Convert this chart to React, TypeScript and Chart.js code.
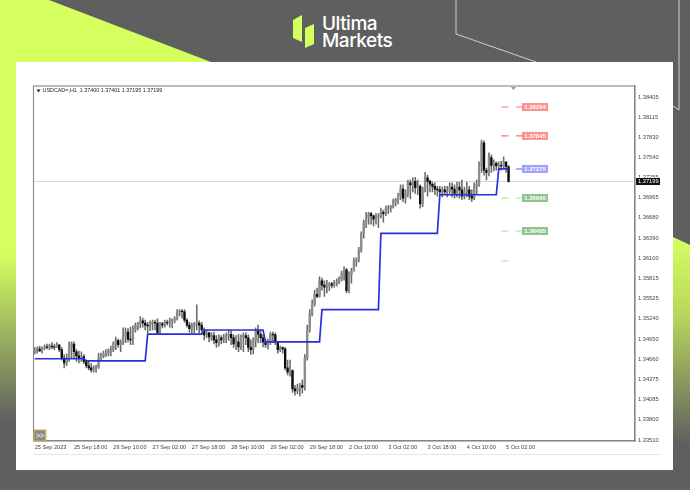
import React, { useEffect, useRef } from "react";
import { Chart, registerables } from "chart.js";

Chart.register(...registerables);

const BAR_SLOTS = 245;
const tickLabels = ["25 Sep 2023","25 Sep 18:00","26 Sep 10:00","27 Sep 02:00","27 Sep 18:00","28 Sep 10:00","29 Sep 02:00","29 Sep 18:00","2 Oct 10:00","3 Oct 02:00","3 Oct 18:00","4 Oct 10:00","5 Oct 02:00"];
const priceTicks = [1.38405,1.38115,1.3783,1.3754,1.37255,1.36965,1.3668,1.3639,1.361,1.35815,1.35525,1.3524,1.3495,1.3466,1.34375,1.34085,1.338,1.3351];

const highs = [
1.3483,1.3484,1.3485,1.3484,1.3487,1.3488,1.3488,1.3490,1.3488,1.3490,
1.3487,1.3483,1.3473,1.3474,1.3491,1.3491,1.3491,1.3480,1.3478,1.3477,
1.3473,1.3465,1.3463,1.3460,1.3457,1.3458,1.3475,1.3475,1.3478,1.3480,
1.3481,1.3485,1.3491,1.3498,1.3495,1.3494,1.3511,1.3511,1.3510,1.3512,
1.3514,1.3518,1.3519,1.3527,1.3525,1.3522,1.3519,1.3521,1.3522,1.3522,
1.3524,1.3519,1.3519,1.3522,1.3522,1.3525,1.3524,1.3527,1.3537,1.3537,
1.3537,1.3537,1.3524,1.3519,1.3518,1.3519,1.3544,1.3521,1.3519,1.3511,
1.3508,1.3505,1.3504,1.3505,1.3500,1.3501,1.3500,1.3502,1.3504,1.3508,
1.3507,1.3501,1.3500,1.3502,1.3501,1.3504,1.3504,1.3501,1.3494,1.3497,
1.3511,1.3515,1.3508,1.3501,1.3494,1.3495,1.3505,1.3505,1.3504,1.3491,
1.3485,1.3484,1.3483,1.3465,1.3465,1.3451,1.3429,1.3431,1.3432,1.3437,
1.3473,1.3515,1.3537,1.3551,1.3565,1.3568,1.3584,1.3582,1.3578,1.3579,
1.3576,1.3576,1.3579,1.3581,1.3584,1.3592,1.3598,1.3596,1.3591,1.3596,
1.3611,1.3611,1.3626,1.3648,1.3665,1.3676,1.3676,1.3676,1.3672,1.3674,
1.3674,1.3682,1.3679,1.3685,1.3686,1.3686,1.3695,1.3696,1.3703,1.3715,
1.3715,1.3708,1.3722,1.3722,1.3725,1.3726,1.3722,1.3715,1.3712,1.3733,
1.3729,1.3722,1.3719,1.3718,1.3713,1.3713,1.3712,1.3713,1.3713,1.3718,
1.3718,1.3715,1.3719,1.3719,1.3722,1.3712,1.3719,1.3713,1.3708,1.3718,
1.3722,1.3748,1.3779,1.3778,1.3739,1.3761,1.3758,1.3751,1.3748,1.3748,
1.3749,1.3755,1.3746,1.3743];

const lows = [
1.3474,1.3475,1.3477,1.3475,1.3480,1.3481,1.3480,1.3481,1.3480,1.3483,
1.3477,1.3465,1.3454,1.3457,1.3463,1.3468,1.3468,1.3463,1.3461,1.3463,
1.3460,1.3454,1.3451,1.3448,1.3448,1.3448,1.3453,1.3465,1.3468,1.3470,
1.3471,1.3471,1.3477,1.3480,1.3483,1.3477,1.3487,1.3490,1.3491,1.3487,
1.3487,1.3505,1.3508,1.3511,1.3512,1.3508,1.3504,1.3507,1.3508,1.3508,
1.3502,1.3502,1.3511,1.3512,1.3515,1.3512,1.3511,1.3518,1.3522,1.3528,
1.3525,1.3519,1.3512,1.3505,1.3504,1.3504,1.3508,1.3504,1.3505,1.3494,
1.3497,1.3491,1.3493,1.3488,1.3483,1.3485,1.3488,1.3490,1.3490,1.3493,
1.3487,1.3483,1.3480,1.3477,1.3480,1.3477,1.3487,1.3477,1.3473,1.3474,
1.3484,1.3490,1.3490,1.3484,1.3483,1.3481,1.3487,1.3490,1.3487,1.3475,
1.3477,1.3475,1.3451,1.3444,1.3442,1.3419,1.3415,1.3417,1.3414,1.3418,
1.3422,1.3465,1.3505,1.3528,1.3542,1.3554,1.3555,1.3565,1.3556,1.3561,
1.3564,1.3568,1.3569,1.3571,1.3574,1.3578,1.3579,1.3561,1.3561,1.3575,
1.3594,1.3599,1.3605,1.3619,1.3639,1.3654,1.3659,1.3659,1.3656,1.3659,
1.3654,1.3668,1.3662,1.3671,1.3674,1.3676,1.3682,1.3685,1.3688,1.3694,
1.3691,1.3689,1.3698,1.3695,1.3705,1.3703,1.3701,1.3682,1.3684,1.3705,
1.3699,1.3705,1.3705,1.3701,1.3699,1.3701,1.3698,1.3702,1.3698,1.3701,
1.3698,1.3696,1.3698,1.3696,1.3694,1.3695,1.3698,1.3694,1.3691,1.3694,
1.3701,1.3713,1.3733,1.3729,1.3722,1.3728,1.3733,1.3735,1.3736,1.3736,
1.3736,1.3739,1.3733,1.3719];

const closes = [
1.3480,1.3481,1.3478,1.3483,1.3484,1.3483,1.3485,1.3484,1.3483,1.3487,
1.3480,1.3468,1.3461,1.3468,1.3483,1.3488,1.3477,1.3471,1.3467,1.3470,
1.3463,1.3457,1.3454,1.3451,1.3454,1.3455,1.3468,1.3471,1.3474,1.3475,
1.3478,1.3480,1.3488,1.3493,1.3487,1.3490,1.3500,1.3505,1.3495,1.3494,
1.3508,1.3514,1.3517,1.3521,1.3518,1.3515,1.3514,1.3517,1.3519,1.3518,
1.3504,1.3517,1.3515,1.3519,1.3518,1.3521,1.3522,1.3524,1.3534,1.3535,
1.3534,1.3522,1.3515,1.3510,1.3514,1.3517,1.3518,1.3515,1.3508,1.3501,
1.3504,1.3498,1.3500,1.3494,1.3490,1.3497,1.3494,1.3495,1.3500,1.3502,
1.3497,1.3488,1.3491,1.3484,1.3498,1.3500,1.3497,1.3483,1.3480,1.3493,
1.3507,1.3502,1.3497,1.3491,1.3487,1.3490,1.3502,1.3501,1.3491,1.3480,
1.3483,1.3481,1.3454,1.3448,1.3450,1.3424,1.3421,1.3425,1.3429,1.3426,
1.3468,1.3508,1.3531,1.3545,1.3559,1.3556,1.3578,1.3572,1.3569,1.3571,
1.3574,1.3572,1.3575,1.3576,1.3581,1.3589,1.3594,1.3564,1.3587,1.3592,
1.3606,1.3608,1.3622,1.3645,1.3661,1.3668,1.3674,1.3671,1.3666,1.3669,
1.3671,1.3676,1.3674,1.3681,1.3682,1.3684,1.3691,1.3694,1.3699,1.3709,
1.3696,1.3703,1.3718,1.3715,1.3720,1.3711,1.3713,1.3688,1.3708,1.3725,
1.3720,1.3716,1.3713,1.3709,1.3708,1.3705,1.3708,1.3705,1.3706,1.3712,
1.3709,1.3703,1.3712,1.3708,1.3699,1.3705,1.3708,1.3699,1.3696,1.3713,
1.3716,1.3742,1.3775,1.3736,1.3733,1.3754,1.3743,1.3746,1.3742,1.3743,
1.3742,1.3748,1.3741,1.37199];

const firstOpen = 1.3476;

// Blue pivot line: [level, number of bars at that level]
const pivotRuns: [number, number][] = [
  [1.3467, 21],[1.3464, 25],[1.3502, 23],[1.3508, 25],[1.3491, 23],
  [1.3537, 24],[1.3646, 24],[1.3701, 24],[1.3738, 5],
];

// Level marks to the right of the last bar
const levelMarks = [
  { price: 1.38262, label: "1.38264", dash: "#ff7474", box: "#ff9090", near: true, far: true },
  { price: 1.3785, label: "1.37845", dash: "#ff7474", box: "#ff9090", near: true, far: true },
  { price: 1.37378, label: "1.37375", dash: "#5a5aff", box: "#a0a0ff", near: false, far: true },
  { price: 1.36964, label: "1.36960", dash: "#8ff08f", box: "#8fc48f", near: true, far: true },
  { price: 1.36493, label: "1.36495", dash: "#8ff08f", box: "#8fc48f", near: true, far: true },
  { price: 1.36065, label: "", dash: "#8ff08f", box: "", near: true, far: false },
];

const LAST_PRICE = 1.37199;
const HEADER_TEXT = "USDCAD=,H1  1.37400 1.37401 1.37195 1.37199";

const FONT = "'Liberation Sans', sans-serif";

const labels = Array.from({ length: BAR_SLOTS }, (_, i) => (i % 16 === 0 ? tickLabels[i / 16] ?? "" : ""));
const opens = closes.map((_, i) => (i === 0 ? firstOpen : closes[i - 1]));
const pivot = pivotRuns.flatMap(([level, n]) => Array.from({ length: n }, () => level));

function dashSeries(price: number, near: boolean, far: boolean) {
  return labels.map((_, i) => {
    if (near && i >= 190 && i <= 193) return price;
    if (far && i >= 196 && i <= 200) return price;
    return null;
  });
}

const decorations = {
  id: "mtDecor",
  beforeDatasetsDraw(chart: any) {
    const { ctx, chartArea: a, scales } = chart;
    const y = Math.floor(scales.y.getPixelForValue(LAST_PRICE)) + 0.5;
    ctx.save();
    ctx.strokeStyle = "#d8d8d8";
    ctx.lineWidth = 1;
    ctx.beginPath();
    ctx.moveTo(a.left, y);
    ctx.lineTo(a.right, y);
    ctx.stroke();
    ctx.restore();
  },
  afterDraw(chart: any) {
    const { ctx, chartArea: a, scales } = chart;
    ctx.save();
    ctx.strokeStyle = "#858585";
    ctx.lineWidth = 1.1;
    ctx.strokeRect(a.left, a.top, a.right - a.left, a.bottom - a.top);

    ctx.fillStyle = "#222";
    ctx.beginPath();
    ctx.moveTo(a.left + 3, a.top + 3.5);
    ctx.lineTo(a.left + 7, a.top + 3.5);
    ctx.lineTo(a.left + 5, a.top + 6.5);
    ctx.closePath();
    ctx.fill();
    ctx.font = `5.4px ${FONT}`;
    ctx.textBaseline = "middle";
    ctx.textAlign = "left";
    ctx.fillText(HEADER_TEXT, a.left + 9, a.top + 5);

    ctx.fillStyle = "#999";
    ctx.beginPath();
    ctx.moveTo(511, a.top + 1);
    ctx.lineTo(516, a.top + 1);
    ctx.lineTo(513.5, a.top + 4);
    ctx.closePath();
    ctx.fill();

    levelMarks.forEach((m) => {
      if (!m.label) return;
      const y = scales.y.getPixelForValue(m.price);
      ctx.fillStyle = m.box;
      ctx.fillRect(522, y - 4, 26, 8);
      ctx.fillStyle = "#fff";
      ctx.font = `bold 6px ${FONT}`;
      ctx.textAlign = "center";
      ctx.fillText(m.label, 535, y + 0.3);
    });

    const ty = scales.y.getPixelForValue(LAST_PRICE);
    ctx.fillStyle = "#111";
    ctx.fillRect(636, ty - 3.5, 24, 7);
    ctx.fillStyle = "#fff";
    ctx.font = `5.7px ${FONT}`;
    ctx.textAlign = "left";
    ctx.fillText(LAST_PRICE.toFixed(5), 638, ty + 0.3);

    ctx.fillStyle = "#8a8a8a";
    ctx.fillRect(a.left, a.bottom - 11, 12, 11);
    ctx.strokeStyle = "#c9b24a";
    ctx.lineWidth = 1;
    ctx.strokeRect(a.left + 0.5, a.bottom - 11, 12, 11);
    ctx.fillStyle = "#e8e8e8";
    ctx.font = `bold 7px ${FONT}`;
    ctx.textAlign = "center";
    ctx.fillText(">>", a.left + 6.5, a.bottom - 5.2);
    ctx.restore();
  },
};

export default function App() {
  const ref = useRef<HTMLCanvasElement | null>(null);

  useEffect(() => {
    if (!ref.current) return;
    const chart = new Chart(ref.current, {
      type: "bar",
      data: {
        labels,
        datasets: [
          ...levelMarks.map((m) => ({
            type: "line" as const,
            data: dashSeries(m.price, m.near, m.far),
            borderColor: m.dash,
            borderWidth: 1.1,
            pointRadius: 0,
            spanGaps: false,
            order: 1,
          })),
          {
            type: "line" as const,
            data: pivot,
            borderColor: "#2a2fd8",
            borderWidth: 1.7,
            pointRadius: 0,
            tension: 0,
            order: 0,
          },
          {
            type: "bar" as const,
            data: opens.map((o, i) => [o, closes[i]]),
            backgroundColor: closes.map((c, i) => (c < opens[i] ? "#0c0c0c" : "#8c8c8c")),
            barThickness: 1.7,
            grouped: false,
            order: 2,
          },
          {
            type: "bar" as const,
            data: lows.map((l, i) => [l, highs[i]]),
            backgroundColor: "#6a6a6a",
            barThickness: 0.9,
            grouped: false,
            order: 3,
          },
        ],
      },
      options: {
        responsive: false,
        animation: false,
        devicePixelRatio: 1,
        layout: { padding: { left: 33.5, top: 86, right: 25, bottom: 29 } },
        plugins: { legend: { display: false }, tooltip: { enabled: false } },
        scales: {
          x: {
            grid: { display: false, drawTicks: true, tickLength: 2, color: "#777" } as any,
            border: { color: "#858585", width: 1.1 },
            afterBuildTicks(scale: any) {
              scale.ticks = tickLabels.map((_, i) => ({ value: i * 16 }));
            },
            afterFit(scale: any) {
              scale.height = 20;
            },
            ticks: {
              autoSkip: false,
              maxRotation: 0,
              minRotation: 0,
              align: "start",
              padding: 1,
              color: "#444",
              font: { family: FONT, size: 5.6 },
            },
          },
          y: {
            position: "right",
            min: 1.33496,
            max: 1.38562,
            grid: { display: false, tickLength: 2, color: "#777" } as any,
            border: { color: "#858585", width: 1.1 },
            afterBuildTicks(scale: any) {
              scale.ticks = priceTicks.map((value) => ({ value }));
            },
            afterFit(scale: any) {
              scale.width = 30;
            },
            ticks: {
              autoSkip: false,
              padding: 1,
              color: "#444",
              font: { family: FONT, size: 5.7 },
              callback: (v: any) => Number(v).toFixed(5),
            },
          },
        },
      },
      plugins: [decorations],
    } as any);
    return () => chart.destroy();
  }, []);

  const lime = "#d4ff5f";
  const gray = "#5f5f5f";

  return (
    <div style={{ position: "fixed", left: 0, top: 0, width: 690, height: 490, background: gray, overflow: "hidden" }}>
      <svg width={690} height={490} style={{ position: "absolute", left: 0, top: 0 }}>
        <defs>
          <linearGradient id="fadeL" x1="0" y1="0" x2="0" y2="1">
            <stop offset="0" stopColor={lime} />
            <stop offset="0.52" stopColor={lime} />
            <stop offset="0.86" stopColor={gray} />
          </linearGradient>
          <linearGradient id="fadeR" x1="0" y1="0" x2="0" y2="1">
            <stop offset="0" stopColor={lime} />
            <stop offset="0.3" stopColor="#b9d85c" />
            <stop offset="0.82" stopColor={gray} />
          </linearGradient>
        </defs>
        <polygon points="0,0 49,0 211,62 16,62 16,490 0,490" fill="url(#fadeL)" />
        <polygon points="673,237 690,245 690,490 673,490" fill="url(#fadeR)" />
        <polyline points="456,0 456,34 536,62" fill="none" stroke="#cfcfcf" strokeWidth={1} />
        <polyline points="679,0 679,110 673,106" fill="none" stroke="#cfcfcf" strokeWidth={1} />
        <rect x={16} y={62} width={657} height={408} fill="#ffffff" />
        <rect x={33} y={454} width={628} height={1} fill="#e6e6e6" />
        <polygon points="293,20 302,15 302,42 293,38" fill={lime} />
        <polygon points="305,28 314,24 314,44 305,48" fill={lime} />
      </svg>
      <div style={{ position: "absolute", left: 322, top: 15, color: "#fff", fontFamily: "Inter, Roboto, sans-serif", fontWeight: 500, fontSize: 19, lineHeight: "17px", letterSpacing: -0.5 }}>
        Ultima
        <br />
        Markets
      </div>
      <canvas ref={ref} width={690} height={490} style={{ position: "absolute", left: 0, top: 0, width: 690, height: 490, filter: "blur(0.6px)" }} />
    </div>
  );
}
